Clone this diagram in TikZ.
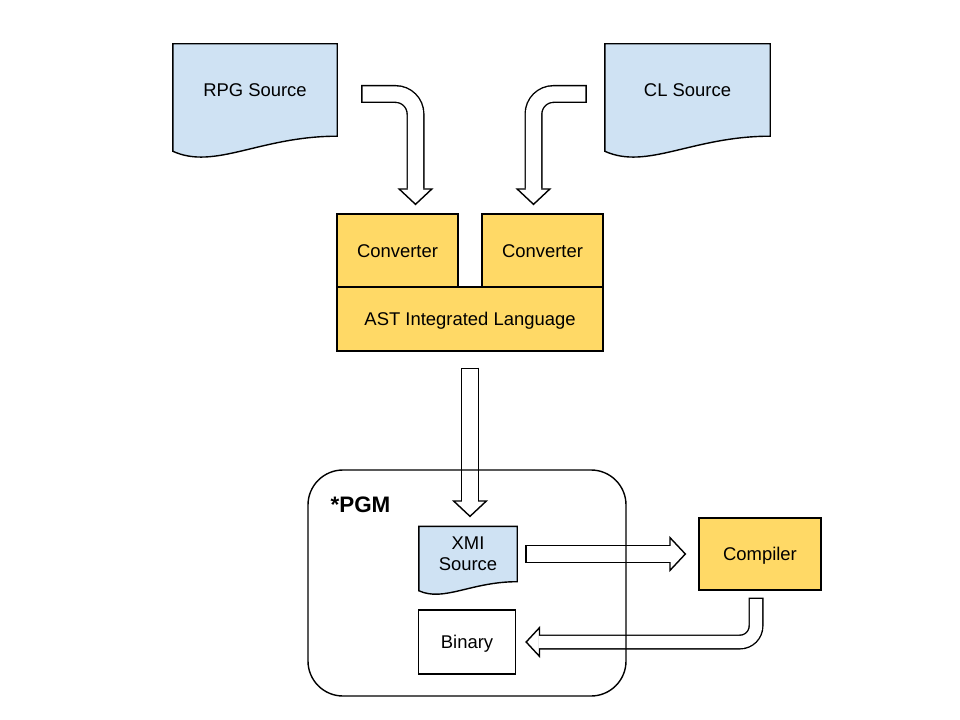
\documentclass[tikz,border=0pt]{standalone}
\usepackage{fontspec}
\setmainfont{Liberation Sans}
\usetikzlibrary{arrows.meta,backgrounds,calc}

\definecolor{docblue}{HTML}{CFE2F3}
\definecolor{boxyellow}{HTML}{FFD966}

\tikzset{
    box/.style={draw, line width=1.4bp, fill=boxyellow, inner sep=0pt,
        text height=13.3bp, text depth=0pt},
    doc/.style={inner sep=0pt, align=center},
    docline/.style={draw, line width=1.4bp, fill=docblue},
    flow/.style={line width=18bp, rounded corners=20bp,
        -{Triangle[length=17bp, width=36bp, fill=white, line width=1.4bp]}},
    flowin/.style={draw=white, line width=15.2bp, rounded corners=20bp,
        shorten <=1.4bp, shorten >=15.3bp},
}

\newcommand{\docoutline}[1]{%
    \begin{pgfonlayer}{background}
        \draw[docline] let \p1=($(#1.north east)-(#1.south west)$) in
            (#1.north west) -- (#1.north east) -- (#1.south east)
            .. controls +(-0.47*\x1,0pt) and ([shift={(0.256*\x1,-0.37*\y1)}]#1.south west)
            .. ([yshift=-0.163*\y1]#1.south west) -- cycle;
    \end{pgfonlayer}}

\begin{document}
\begin{tikzpicture}[x=1bp, y=-1bp, font=\fontsize{18.5}{21}\selectfont]
        \useasboundingbox (0,0) rectangle (960,720);

            \node[doc, minimum width=164bp, minimum height=92bp] (rpg) at (255,90) {RPG Source};
            \node[doc, minimum width=165bp, minimum height=92bp] (cl) at (687.5,90) {CL Source};
            \docoutline{rpg}
            \docoutline{cl}

            \node[box, minimum width=121bp, minimum height=73bp] (convl) at (397.5,250.5) {Converter};
            \node[box, minimum width=121bp, minimum height=73bp] (convr) at (542.5,250.5) {Converter};
            \node[box, minimum width=266bp, minimum height=64bp] (ast) at (470,319) {AST Integrated Language};

            \node[doc, minimum width=98bp, minimum height=55bp] (xmi) at (468,554) {XMI\\Source};
            \docoutline{xmi}
            \node[box, fill=white, minimum width=97bp, minimum height=64bp] (bin) at (467,642) {Binary};
            \node[box, minimum width=122bp, minimum height=72bp] (comp) at (760,554) {Compiler};

            \draw[flow] ([xshift=24bp,yshift=-4bp]rpg.east) -| ([xshift=18bp,yshift=8bp]convl.north);
            \draw[flowin] ([xshift=24bp,yshift=-4bp]rpg.east) -| ([xshift=18bp,yshift=8bp]convl.north);
            \draw[flow] ([xshift=-18bp,yshift=-4bp]cl.west) -| ([xshift=-9bp,yshift=8bp]convr.north);
            \draw[flowin] ([xshift=-18bp,yshift=-4bp]cl.west) -| ([xshift=-9bp,yshift=8bp]convr.north);
            \draw[flow] ([yshift=-16bp]ast.south) -- ($(ast.south |- xmi.north)+(0,-9)$);
            \draw[flowin] ([yshift=-16bp]ast.south) -- ($(ast.south |- xmi.north)+(0,-9)$);
            \draw[flow] ([xshift=8bp]xmi.east) -- ([xshift=-12bp]comp.west);
            \draw[flowin] ([xshift=8bp]xmi.east) -- ([xshift=-12bp]comp.west);
            \draw[flow, line width=15bp, rounded corners=16bp,
                -{Triangle[length=15bp, width=32bp, fill=white, line width=1.4bp]}]
                ([xshift=-4bp,yshift=-7bp]comp.south) |- ([xshift=9bp]bin.east);
            \draw[flowin, line width=12.2bp, rounded corners=16bp, shorten >=13.3bp]
                ([xshift=-4bp,yshift=-7bp]comp.south) |- ([xshift=9bp]bin.east);

            \node[draw, line width=1.4bp, rounded corners=35bp, minimum width=318bp,
                minimum height=226bp] (pgm) at (467,583) {};
            \node[font=\fontsize{22.5}{27}\bfseries\selectfont, inner sep=0pt] (pgmlabel) at (360.5,505) {*PGM};

        \end{tikzpicture}
\end{document}
